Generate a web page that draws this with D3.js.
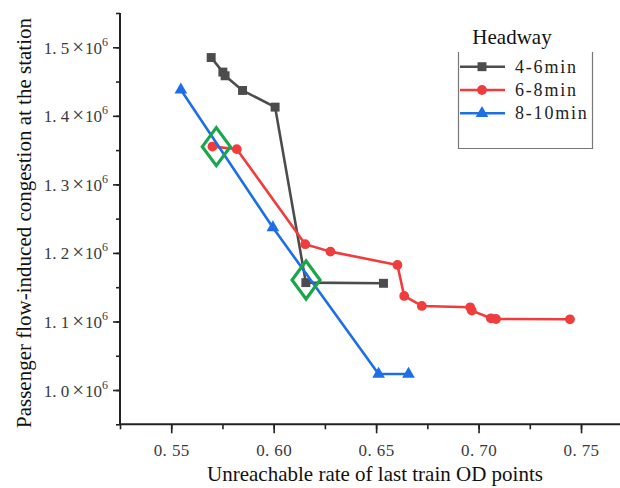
<!DOCTYPE html>
<html>
<head>
<meta charset="utf-8">
<script src="https://cdn.jsdelivr.net/npm/d3@7"></script>
<style>
  html, body { margin: 0; padding: 0; background: #fff; }
  svg { display: block; }
</style>
</head>
<body>
<svg id="chart" width="620" height="488"></svg>
<script>
// ---- data ----
const seriesNames = ["4-6min", "6-8min", "8-10min"];
const x46 = [0.5695, 0.5752, 0.5763, 0.5848, 0.6007, 0.6157, 0.6536];
const y46 = [1.485e6, 1.4638e6, 1.4584e6, 1.437e6, 1.4127e6, 1.1567e6, 1.1557e6];
const x68 = [0.5701, 0.5820, 0.6154, 0.6277, 0.6604, 0.6637, 0.6723, 0.6959, 0.6967, 0.7060, 0.7085, 0.7446];
const y68 = [1.3552e6, 1.3514e6, 1.2127e6, 1.2019e6, 1.1825e6, 1.1372e6, 1.1226e6, 1.1207e6, 1.1158e6, 1.1046e6, 1.1036e6, 1.1032e6];
const x810 = [0.5547, 0.5996, 0.6512, 0.6658];
const y810 = [1.438e6, 1.237e6, 1.0234e6, 1.0234e6];
const highlightX = [0.5720, 0.6158];
const highlightY = [1.355e6, 1.1606e6];
const xTicks = [0.55, 0.60, 0.65, 0.70, 0.75];
const xTickLabels = ["0. 55", "0. 60", "0. 65", "0. 70", "0. 75"];
const yTicks = [1.0e6, 1.1e6, 1.2e6, 1.3e6, 1.4e6, 1.5e6];
const yTickLabels = ["1. 0", "1. 1", "1. 2", "1. 3", "1. 4", "1. 5"];
const xTitle = "Unreachable rate of last train OD points";
const yTitle = "Passenger flow-induced congestion at the station";
const legendTitle = "Headway";

// ---- setup ----
const svg = d3.select("#chart");
const colors = ["#4c4c4c", "#f03c3c", "#1e6ee6"];
const shapes = [d3.symbolSquare, d3.symbolCircle, d3.symbolTriangle];
const symSizes = [80, 75, 70];
const serif = "'Liberation Serif', 'Times New Roman', serif";

const x = d3.scaleLinear().domain([0.525, 0.77]).range([120, 622]);
const y = d3.scaleLinear().domain([0.95e6, 1.55e6]).range([424.3, 13]);

const series = [
  x46.map((v, i) => ({x: v, y: y46[i]})),
  x68.map((v, i) => ({x: v, y: y68[i]})),
  x810.map((v, i) => ({x: v, y: y810[i]}))
];

// ---- axes ----
const xMinor = d3.range(0.525, 0.7701, 0.025).map(v => +v.toFixed(3));
const yMinor = d3.range(0.95e6, 1.5501e6, 0.05e6).map(v => Math.round(v));

const xAxisG = svg.append("g").attr("transform", `translate(0,${y.range()[0]})`);
xAxisG.call(d3.axisBottom(x).tickValues(xMinor).tickSize(5).tickFormat(""))
  .call(g => g.select(".domain").remove());
xAxisG.append("g").call(d3.axisBottom(x).tickValues(xTicks).tickSize(9)
    .tickFormat((d, i) => xTickLabels[i]))
  .call(g => g.select(".domain").remove())
  .call(g => g.selectAll("text").attr("font-family", serif).attr("font-size", 17)
        .attr("fill", "#3a3a3a").attr("letter-spacing", 0.4).attr("dy", "1.15em"));
xAxisG.selectAll(".tick line").attr("stroke", "#222").attr("stroke-width", 1.6);
xAxisG.append("line").attr("x1", 120).attr("x2", 622).attr("y1", 0).attr("y2", 0)
  .attr("stroke", "#222").attr("stroke-width", 2);

const yAxisG = svg.append("g").attr("transform", `translate(120,0)`);
yAxisG.call(d3.axisLeft(y).tickValues(yMinor).tickSize(4).tickFormat(""))
  .call(g => g.select(".domain").remove());
const yMajor = yAxisG.append("g").call(d3.axisLeft(y).tickValues(yTicks).tickSize(7).tickFormat(""))
  .call(g => g.select(".domain").remove());
yAxisG.selectAll(".tick line").attr("stroke", "#222").attr("stroke-width", 1.6);
yMajor.selectAll(".tick").each(function(d, i) {
  const t = d3.select(this).append("text")
    .attr("x", -12).attr("y", 6)
    .attr("text-anchor", "end")
    .attr("font-family", serif).attr("font-size", 17).attr("fill", "#3a3a3a");
  t.append("tspan").text(yTickLabels[i]);
  t.append("tspan").attr("dx", 3).attr("font-size", 21).text("×");
  t.append("tspan").attr("dx", 1).text("10");
  t.append("tspan").attr("font-size", 12).attr("dy", -8).text("6");
});
yAxisG.append("line").attr("x1", 0).attr("x2", 0).attr("y1", 13).attr("y2", 425)
  .attr("stroke", "#222").attr("stroke-width", 2);

// ---- titles ----
svg.append("text").attr("x", 375).attr("y", 481)
  .attr("text-anchor", "middle").attr("font-family", serif).attr("font-size", 21)
  .attr("fill", "#111").text(xTitle);
svg.append("text")
  .attr("transform", "translate(31,223) rotate(-90)")
  .attr("text-anchor", "middle").attr("font-family", serif).attr("font-size", 21)
  .attr("fill", "#111").text(yTitle);

// ---- series ----
const line = d3.line().x(d => x(d.x)).y(d => y(d.y));
series.forEach((s, k) => {
  svg.append("path").datum(s).attr("d", line)
    .attr("fill", "none").attr("stroke", colors[k]).attr("stroke-width", 2.6)
    .attr("stroke-linejoin", "round");
  svg.append("g").selectAll("path").data(s).join("path")
    .attr("transform", d => `translate(${x(d.x)},${y(d.y)})`)
    .attr("d", d3.symbol().type(shapes[k]).size(symSizes[k]))
    .attr("fill", colors[k]);
});

// ---- highlight diamonds ----
svg.append("g").selectAll("path").data(highlightX.map((v, i) => ({x: v, y: highlightY[i]})))
  .join("path")
  .attr("transform", d => `translate(${x(d.x)},${y(d.y)})`)
  .attr("d", "M0,-19 L14,0 L0,19 L-14,0 Z")
  .attr("fill", "none").attr("stroke", "#1aa64a").attr("stroke-width", 3.2);

// ---- legend ----
const lg = svg.append("g");
lg.append("text").attr("x", 512).attr("y", 44).attr("text-anchor", "middle")
  .attr("font-family", serif).attr("font-size", 21).attr("fill", "#111").text(legendTitle);
lg.append("path").attr("d", "M458.5,52 V148.5 H592.5 V52")
  .attr("fill", "none").attr("stroke", "#777").attr("stroke-width", 1.2);
seriesNames.forEach((name, k) => {
  const yy = 66.7 + k * 23.3;
  lg.append("line").attr("x1", 460).attr("x2", 505).attr("y1", yy).attr("y2", yy)
    .attr("stroke", colors[k]).attr("stroke-width", 2.6);
  lg.append("path").attr("transform", `translate(482,${yy})`)
    .attr("d", d3.symbol().type(shapes[k]).size(symSizes[k])).attr("fill", colors[k]);
  lg.append("text").attr("x", 515).attr("y", yy + 6)
    .attr("font-family", serif).attr("font-size", 18).attr("letter-spacing", 1.8)
    .attr("fill", "#222").text(name);
});
</script>
</body>
</html>
